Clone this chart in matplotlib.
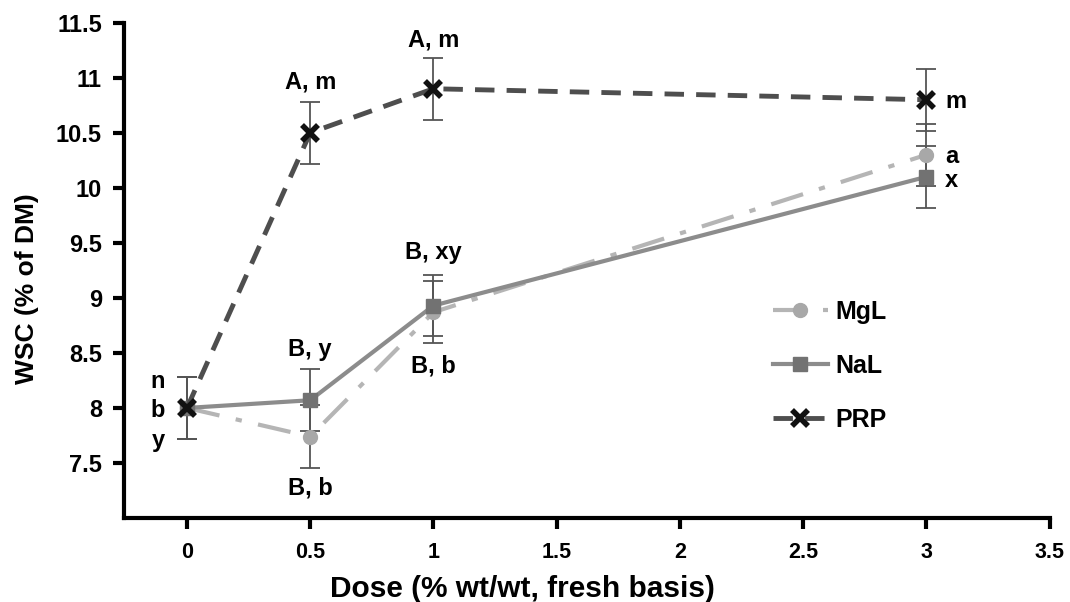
import matplotlib
matplotlib.use("Agg")
import matplotlib.pyplot as plt

plt.rcParams['font.family'] = ['Liberation Sans', 'DejaVu Sans']
plt.rcParams['font.weight'] = 'bold'

dose_prp = [0, 0.5, 1, 3]
prp = [8.0, 10.5, 10.9, 10.8]
prp_err = [0.28, 0.28, 0.28, 0.28]

dose = [0, 0.5, 1, 3]
mgl = [8.0, 7.74, 8.87, 10.3]
mgl_err = [0.28, 0.29, 0.28, 0.28]
nal = [8.0, 8.07, 8.93, 10.1]
nal_err = [0.28, 0.28, 0.28, 0.28]

xticks = [0, 0.5, 1, 1.5, 2, 2.5, 3, 3.5]
xticklabels = ['0', '0.5', '1', '1.5', '2', '2.5', '3', '3.5']
yticks = [7.5, 8, 8.5, 9, 9.5, 10, 10.5, 11, 11.5]
yticklabels = ['7.5', '8', '8.5', '9', '9.5', '10', '10.5', '11', '11.5']

fig = plt.figure(figsize=(10.7, 6.02), dpi=100)
ax = fig.add_axes([0.116, 0.1395, 0.865, 0.8228])

ecol = '#555555'
kw = dict(fmt='none', ecolor=ecol, elinewidth=1.3, capsize=7, capthick=1.3, zorder=1)
ax.errorbar(dose, nal, yerr=nal_err, **kw)
ax.errorbar(dose, mgl, yerr=mgl_err, **kw)
ax.errorbar(dose_prp, prp, yerr=prp_err, **kw)

ax.plot(dose, mgl, color='#b5b5b5', lw=3, linestyle=(0, (8, 4, 1.5, 4)), marker='o', ms=10,
        mfc='#a8a8a8', mec='#a8a8a8', label='MgL', zorder=2)
ax.plot(dose, nal, color='#8c8c8c', lw=3, linestyle='-', marker='s', ms=10,
        mfc='#727272', mec='#727272', label='NaL', zorder=3)
ax.plot(dose_prp, prp, color='#4e4e4e', lw=3.5, linestyle=(0, (4, 2.5)), marker='x', ms=12,
        mew=4, mec='#111111', label='PRP', zorder=4)

ax.set_xlim(-0.255, 3.5)
ax.set_ylim(7.0, 11.5)
ax.set_xticks(xticks)
ax.set_xticklabels(xticklabels)
ax.set_yticks(yticks)
ax.set_yticklabels(yticklabels)
for s in ['top', 'right']:
    ax.spines[s].set_visible(False)
for s in ['left', 'bottom']:
    ax.spines[s].set_linewidth(3)
ax.tick_params(axis='both', direction='out', length=8, width=3)
ax.tick_params(axis='x', pad=9, labelsize=15.5)
ax.tick_params(axis='y', pad=8, labelsize=17)
for lab in ax.get_xticklabels() + ax.get_yticklabels():
    lab.set_fontweight('bold')

ax.set_xlabel('Dose (% wt/wt, fresh basis)', fontsize=21.5, fontweight='bold')
ax.xaxis.set_label_coords(0.43, -0.115)
ax.set_ylabel('WSC (% of DM)', fontsize=19, fontweight='bold')
ax.yaxis.set_label_coords(-0.092, 0.464)

fs = 17
ax.text(0.5, 10.96, 'A, m', ha='center', va='center', fontsize=fs, fontweight='bold')
ax.text(1.0, 11.34, 'A, m', ha='center', va='center', fontsize=fs, fontweight='bold')
ax.text(3.075, 10.78, 'm', ha='left', va='center', fontsize=fs, fontweight='bold')
ax.text(3.075, 10.28, 'a', ha='left', va='center', fontsize=fs, fontweight='bold')
ax.text(3.075, 10.07, 'x', ha='left', va='center', fontsize=fs, fontweight='bold')
ax.text(1.0, 9.41, 'B, xy', ha='center', va='center', fontsize=fs, fontweight='bold')
ax.text(1.0, 8.38, 'B, b', ha='center', va='center', fontsize=fs, fontweight='bold')
ax.text(0.5, 8.53, 'B, y', ha='center', va='center', fontsize=fs, fontweight='bold')
ax.text(0.5, 7.27, 'B, b', ha='center', va='center', fontsize=fs, fontweight='bold')
ax.text(-0.09, 8.24, 'n', ha='right', va='center', fontsize=fs, fontweight='bold')
ax.text(-0.09, 7.98, 'b', ha='right', va='center', fontsize=fs, fontweight='bold')
ax.text(-0.09, 7.70, 'y', ha='right', va='center', fontsize=fs, fontweight='bold')

leg = ax.legend(loc='upper left', bbox_to_anchor=(0.701, 0.44), frameon=False,
                fontsize=18, labelspacing=1.2, handlelength=2.2, handletextpad=0.3,
                borderpad=0, borderaxespad=0)
for t in leg.get_texts():
    t.set_fontweight('bold')

fig.savefig('out.png', dpi=100)
